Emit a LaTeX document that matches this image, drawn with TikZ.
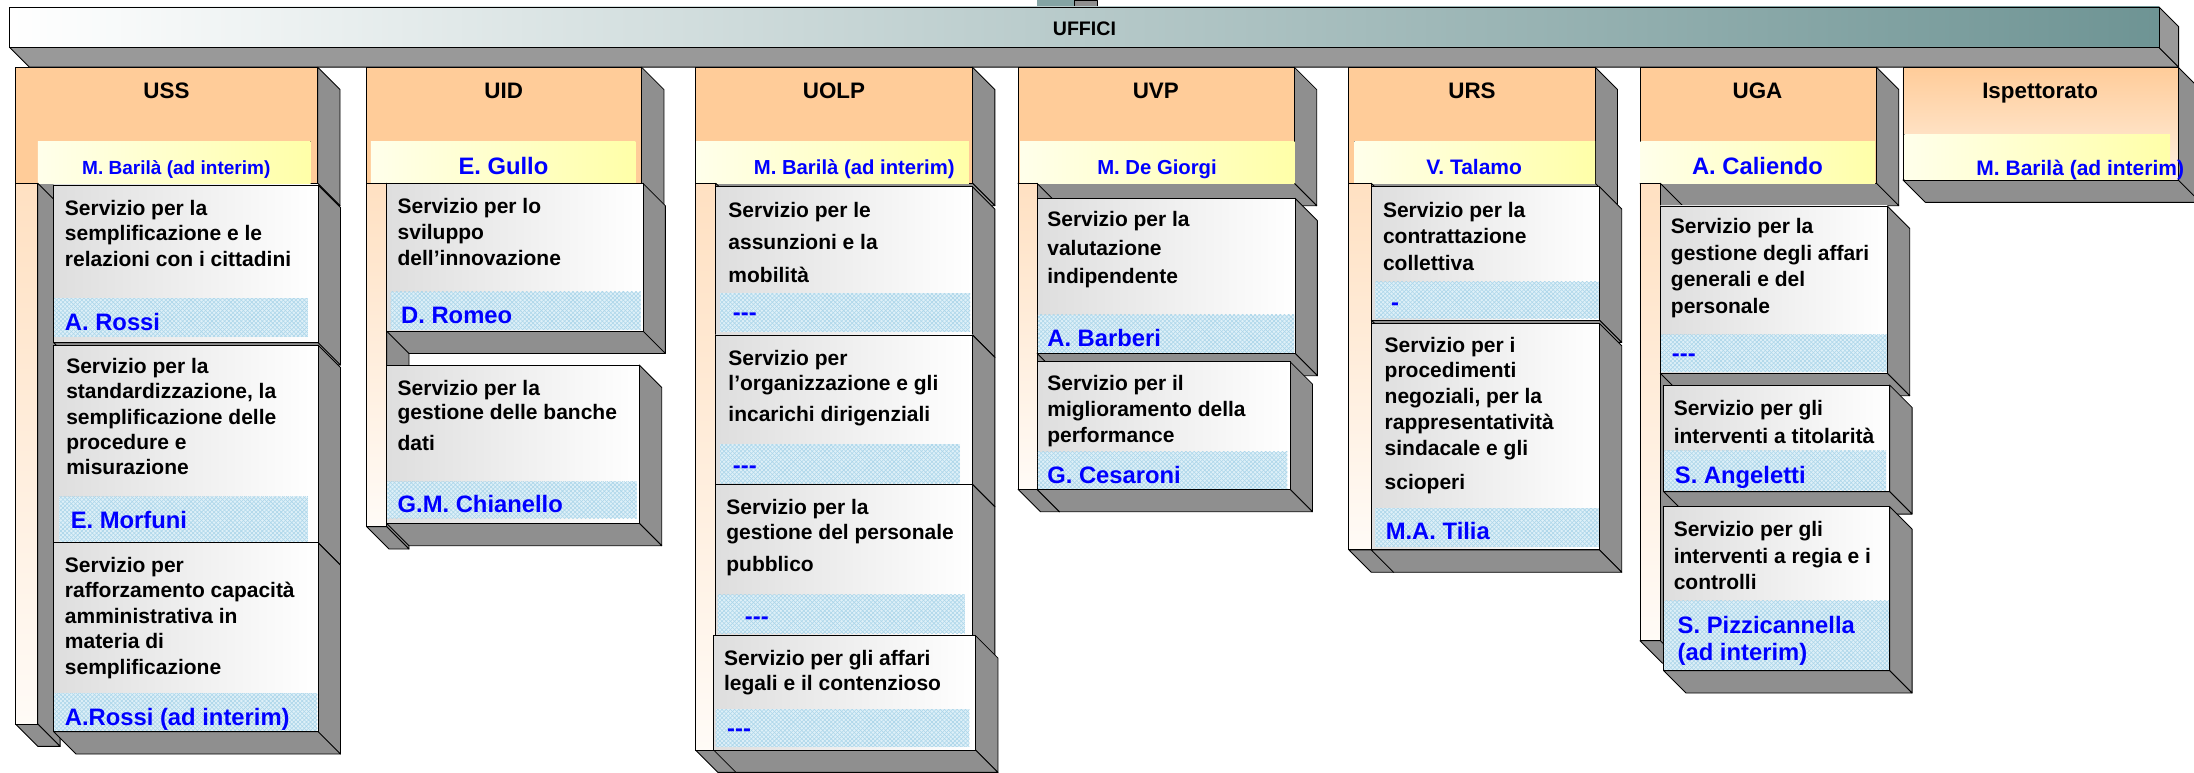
\documentclass[tikz,border=0pt]{standalone}
\usepackage{fontspec}
\setmainfont{Liberation Sans}
\usetikzlibrary{patterns}

\definecolor{sidegrey}{RGB}{143,143,143}
\definecolor{bargrey}{RGB}{153,153,153}
\definecolor{barteal}{RGB}{110,148,148}
\definecolor{headorange}{RGB}{255,204,153}
\definecolor{namesky}{RGB}{222,240,248}
\definecolor{hatchsky}{RGB}{172,214,234}
\definecolor{chiefyellow}{RGB}{255,255,168}

% depth of the 3D boxes
\newcommand{\slab}{16}
% fixed height of a first text line, so that north = baseline - 12
\newcommand{\capline}{\rule{0pt}{12pt}}
% front face #5, right face and bottom face
\newcommand{\solidbox}[5]{%
  \filldraw[sideface] (#3,#2) -- (#3+\slab,#2+\slab) -- (#3+\slab,#4+\slab) -- (#3,#4) -- cycle;
  \filldraw[sideface] (#1,#4) -- (#1+\slab,#4+\slab) -- (#3+\slab,#4+\slab) -- (#3,#4) -- cycle;
  \draw[#5] (#1,#2) rectangle (#3,#4);}

\begin{document}
\begin{tikzpicture}[x=1pt,y=1pt,yscale=-1,
  sideface/.style={fill=sidegrey,draw=black,line width=0.6pt,line join=round},
  headfront/.style={fill=headorange,draw=black,line width=0.6pt},
  ispfront/.style={top color=headorange,bottom color=headorange!30!white,draw=black,line width=0.6pt},
  stripfront/.style={top color=headorange!60!white,bottom color=headorange!8!white,draw=black,line width=0.6pt},
  svcfront/.style={left color=black!13,right color=white,draw=black,line width=0.6pt},
  chiefband/.style={left color=white!92!yellow,right color=chiefyellow},
  namebox/.style={fill=namesky,postaction={pattern=north east lines,pattern color=hatchsky},postaction={pattern=north west lines,pattern color=hatchsky}},
  head/.style={font=\bfseries\fontsize{16}{18}\selectfont,anchor=base,inner sep=0pt},
  chief/.style={font=\bfseries\fontsize{15}{17}\selectfont,text=blue,anchor=base,inner sep=0pt},
  svc/.style={font=\bfseries\fontsize{15}{18.3}\selectfont,anchor=north west,inner sep=0pt,align=left},
  who/.style={font=\bfseries\fontsize{17}{19.1}\selectfont,text=blue,anchor=base west,inner sep=0pt,align=left}]
\useasboundingbox (0,0) rectangle (1568,552);

%Shape: Connector stub from above
\fill[barteal!85!white] (741,0) rectangle (768,5);
\filldraw[sideface] (768,0) rectangle (784,5);
%Shape: Bar UFFICI
\filldraw[sideface,fill=bargrey] (7,34) -- (21,48) -- (1557,48) -- (1543,34) -- cycle;
\filldraw[sideface,fill=bargrey] (1543,5) -- (1557,19) -- (1557,48) -- (1543,34) -- cycle;
\draw[left color=white,right color=barteal,draw=black,line width=0.6pt] (7,5) rectangle (1543,34);
% Text Node
\draw (775,25.7) node[head,font=\bfseries\fontsize{14}{16}\selectfont] (uffici) {UFFICI};

%Shape: Box USS
\solidbox{11}{48}{227}{131}{headfront}
\fill[chiefband] (27,101) rectangle (222,131);
% Text Node
\draw (119,70.5) node[head] (uss) {USS};
% Text Node
\draw (126,125) node[chief,font=\bfseries\fontsize{13.6}{16}\selectfont] (uss-chief) {M. Barilà (ad interim)};
\solidbox{11}{131}{27}{517.4}{stripfront}
\solidbox{38.3}{132.2}{227.3}{244.9}{svcfront}
\fill[namebox] (38.8,213.2) rectangle (220,240.6);
% Text Node
\draw (46.2,141.6) node[svc,font=\bfseries\fontsize{15}{18.2}\selectfont] (uss-s1) {\capline Servizio per la\\semplificazione e le\\relazioni con i cittadini};
\draw (46.2,235.9) node[who] (uss-s1-who) {A. Rossi};
\solidbox{38.3}{246.6}{227.3}{387.9}{svcfront}
\fill[namebox] (42.4,355) rectangle (220,387);
% Text Node
\draw (47.2,254.8) node[svc,font=\bfseries\fontsize{15}{18.1}\selectfont] (uss-s2) {\capline Servizio per la\\standardizzazione, la\\semplificazione delle\\procedure e\\misurazione};
\draw (50.4,377.4) node[who] (uss-s2-who) {E. Morfuni};
\solidbox{38.3}{387.9}{227.3}{522.9}{svcfront}
\fill[namebox] (38.8,495.3) rectangle (226.8,522.4);
% Text Node
\draw (46.2,396.6) node[svc] (uss-s3) {\capline Servizio per\\rafforzamento capacità\\amministrativa in\\materia di\\semplificazione};
\draw (46.2,518.2) node[who] (uss-s3-who) {A.Rossi (ad interim)};

%Shape: Box UID
\solidbox{262}{48}{458.5}{131}{headfront}
\fill[chiefband] (265,101) rectangle (454,131);
% Text Node
\draw (360,70.5) node[head] (uid) {UID};
% Text Node
\draw (359.8,125) node[chief,font=\bfseries\fontsize{17}{19}\selectfont] (uid-chief) {E. Gullo};
\solidbox{262}{131}{276.3}{376.4}{stripfront}
\solidbox{276.3}{131}{459.5}{236.6}{svcfront}
\fill[namebox] (279.2,208.5) rectangle (457.8,235.8);
% Text Node
\draw (284,140.5) node[svc,font=\bfseries\fontsize{15}{18.5}\selectfont] (uid-s1) {\capline Servizio per lo\\sviluppo\\dell’innovazione};
\draw (286.5,231) node[who] (uid-s1-who) {D. Romeo};
\solidbox{276.3}{260.9}{456.9}{374}{svcfront}
\fill[namebox] (276.8,344.2) rectangle (455,370.5);
% Text Node
\draw (284,270.3) node[svc,font=\bfseries\fontsize{15}{17.4}\selectfont] (uid-s2) {\capline Servizio per la\\gestione delle banche\\[4.5pt]dati};
\draw (284,366.4) node[who] (uid-s2-who) {G.M. Chianello};

%Shape: Box UOLP
\solidbox{497}{48}{695}{131}{headfront}
\fill[chiefband] (497.5,101) rectangle (692.5,131);
% Text Node
\draw (596,70.5) node[head] (uolp) {UOLP};
% Text Node
\draw (610.5,125) node[chief,font=\bfseries\fontsize{14.5}{17}\selectfont] (uolp-chief) {M. Barilà (ad interim)};
\solidbox{497}{131}{511.5}{536}{stripfront}
\solidbox{511.5}{133.4}{695}{239.4}{svcfront}
\fill[namebox] (514.7,209.6) rectangle (693.3,237);
% Text Node
\draw (520.4,142.9) node[svc,font=\bfseries\fontsize{15}{23.5}\selectfont] (uolp-s1) {\capline Servizio per le\\assunzioni e la\\mobilità};
\draw (523.6,229.2) node[who] (uolp-s1-who) {\mbox{-}\mbox{-}\mbox{-}};
\solidbox{511.5}{239.4}{695}{346.2}{svcfront}
\fill[namebox] (514.7,317.6) rectangle (686,345.4);
% Text Node
\draw (520.4,248.9) node[svc,font=\bfseries\fontsize{15}{17.9}\selectfont] (uolp-s2) {\capline Servizio per\\l’organizzazione e gli\\[4pt]incarichi dirigenziali};
\draw (523.6,338.3) node[who] (uolp-s2-who) {\mbox{-}\mbox{-}\mbox{-}};
\solidbox{511.5}{346.2}{695}{453.8}{svcfront}
\fill[namebox] (513,425.2) rectangle (689.5,452.6);
% Text Node
\draw (518.9,355.6) node[svc,font=\bfseries\fontsize{15}{17.9}\selectfont] (uolp-s3) {\capline Servizio per la\\gestione del personale\\[4.5pt]pubblico};
\draw (532.2,446) node[who] (uolp-s3-who) {\mbox{-}\mbox{-}\mbox{-}};
\solidbox{510}{454.3}{697.2}{536}{svcfront}
\fill[namebox] (511.5,507) rectangle (692.8,533.6);
% Text Node
\draw (517.3,463.3) node[svc] (uolp-s4) {\capline Servizio per gli affari\\legali e il contenzioso};
\draw (519.5,526.5) node[who] (uolp-s4-who) {\mbox{-}\mbox{-}\mbox{-}};

%Shape: Box UVP
\solidbox{727.6}{48}{925}{131}{headfront}
\fill[chiefband] (729,101) rectangle (925,131);
% Text Node
\draw (826,70.5) node[head] (uvp) {UVP};
% Text Node
\draw (826.9,125) node[chief,font=\bfseries\fontsize{14.5}{17}\selectfont] (uvp-chief) {M. De Giorgi};
\solidbox{727.6}{131}{741.2}{349.7}{stripfront}
\solidbox{741.2}{141.7}{925.5}{252.5}{svcfront}
\fill[namebox] (741.7,225.1) rectangle (925,252);
% Text Node
\draw (748.3,150) node[svc,font=\bfseries\fontsize{15}{20.2}\selectfont] (uvp-s1) {\capline Servizio per la\\valutazione\\indipendente};
\draw (748.3,247.8) node[who] (uvp-s1-who) {A. Barberi};
\solidbox{741.2}{258.5}{922}{349.7}{svcfront}
\fill[namebox] (741.7,322.8) rectangle (920,349.2);
% Text Node
\draw (748.3,266.7) node[svc,font=\bfseries\fontsize{15}{18.5}\selectfont] (uvp-s2) {\capline Servizio per il\\miglioramento della\\performance};
\draw (748.3,345.4) node[who] (uvp-s2-who) {G. Cesaroni};

%Shape: Box URS
\solidbox{964}{48}{1140}{131}{headfront}
\fill[chiefband] (968,101) rectangle (1140,131);
% Text Node
\draw (1052,70.5) node[head] (urs) {URS};
% Text Node
\draw (1053.5,125) node[chief] (urs-chief) {V. Talamo};
\solidbox{964}{131}{980}{393}{stripfront}
\solidbox{980}{133.4}{1143}{228.7}{svcfront}
\fill[namebox] (983,201.3) rectangle (1142.5,227.5);
% Text Node
\draw (988.2,142.9) node[svc,font=\bfseries\fontsize{15}{19.2}\selectfont] (urs-s1) {\capline Servizio per la\\contrattazione\\collettiva};
\draw (994,221.6) node[who] (urs-s1-who) {-};
\solidbox{980}{231.1}{1143}{393}{svcfront}
\fill[namebox] (983,363.3) rectangle (1142.5,390.7);
% Text Node
\draw (989.4,239.4) node[svc,font=\bfseries\fontsize{15}{18.5}\selectfont] (urs-s2) {\capline Servizio per i\\procedimenti\\negoziali, per la\\rappresentatività\\sindacale e gli\\[6pt]scioperi};
\draw (990.2,385.9) node[who] (urs-s2-who) {M.A. Tilia};

%Shape: Box UGA
\solidbox{1172}{48}{1341}{131}{headfront}
\fill[chiefband] (1172.5,101) rectangle (1340,131);
% Text Node
\draw (1256,70.5) node[head] (uga) {UGA};
% Text Node
\draw (1256,125) node[chief,font=\bfseries\fontsize{17}{19}\selectfont] (uga-chief) {A. Caliendo};
\solidbox{1172}{131}{1186.6}{457.9}{stripfront}
\solidbox{1186.6}{147.2}{1348.8}{266.8}{svcfront}
\fill[namebox] (1187.1,239.4) rectangle (1348.3,265.6);
% Text Node
\draw (1194,154.8) node[svc,font=\bfseries\fontsize{15}{19}\selectfont] (uga-s1) {\capline Servizio per la\\gestione degli affari\\generali e del\\personale};
\draw (1194.7,258.5) node[who] (uga-s1-who) {\mbox{-}\mbox{-}\mbox{-}};
\solidbox{1189}{275.2}{1350.5}{351.4}{svcfront}
\fill[namebox] (1189.5,322.3) rectangle (1348,350.2);
% Text Node
\draw (1196,284.6) node[svc,font=\bfseries\fontsize{15}{19.8}\selectfont] (uga-s2) {\capline Servizio per gli\\interventi a titolarità};
\draw (1196.8,345.4) node[who] (uga-s2-who) {S. Angeletti};
\solidbox{1189}{362.1}{1350.5}{479.3}{svcfront}
\fill[namebox] (1189.5,429.3) rectangle (1350,478.8);
% Text Node
\draw (1196,371.5) node[svc,font=\bfseries\fontsize{15}{18.9}\selectfont] (uga-s3) {\capline Servizio per gli\\interventi a regia e i\\controlli};
\draw (1198.8,471.7) node[who] (uga-s3-who) {S. Pizzicannella\\(ad interim)};

%Shape: Box Ispettorato
\solidbox{1360}{48}{1556.6}{128.6}{ispfront}
\fill[chiefband] (1361,96) rectangle (1551,128.6);
% Text Node
\draw (1458,70.5) node[head] (isp) {Ispettorato};
% Text Node
\draw (1486.7,125.5) node[chief] (isp-chief) {M. Barilà (ad interim)};

\end{tikzpicture}
\end{document}
